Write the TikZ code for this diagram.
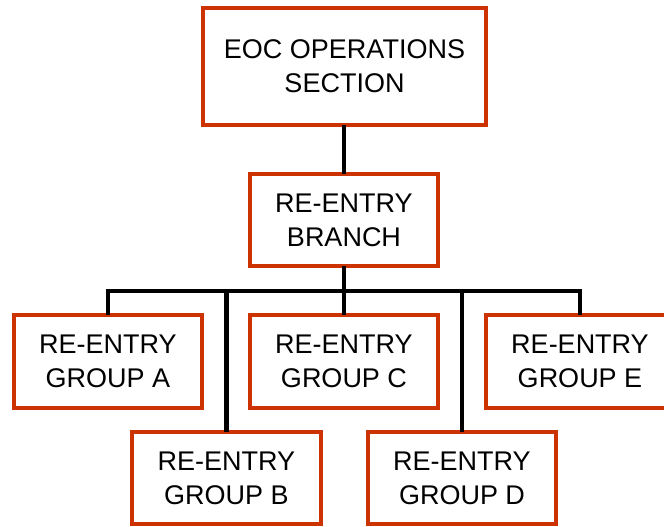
\documentclass[tikz,border=0pt]{standalone}
\usepackage{fontspec}
\setmainfont{Liberation Sans}
\definecolor{boxred}{HTML}{CC3300}
\begin{document}
\begin{tikzpicture}[x=1pt,y=-1pt,
  orgbox/.style={draw=boxred, line width=4pt, fill=white, rectangle, align=center,
    inner sep=0pt, outer sep=0pt, font=\fontsize{27}{34}\selectfont},
  link/.style={draw=black, line width=4.2pt}]
\useasboundingbox (0,0) rectangle (664,527);
\clip (0,0) rectangle (664,527);
\node[orgbox, minimum width=283pt, minimum height=117pt] (top) at (344.5,66.5) {EOC OPERATIONS\\SECTION};
\node[orgbox, minimum width=188pt, minimum height=92pt] (branch) at (344,220) {RE-ENTRY\\BRANCH};
\node[orgbox, minimum width=188pt, minimum height=93pt] (A) at (108,361.5) {RE-ENTRY\\GROUP A};
\node[orgbox, minimum width=188pt, minimum height=93pt] (C) at (344,361.5) {RE-ENTRY\\GROUP C};
\node[orgbox, minimum width=188pt, minimum height=93pt] (E) at (580,361.5) {RE-ENTRY\\GROUP E};
\node[orgbox, minimum width=189pt, minimum height=92pt] (B) at (226.5,478) {RE-ENTRY\\GROUP B};
\node[orgbox, minimum width=188pt, minimum height=92pt] (D) at (462,478) {RE-ENTRY\\GROUP D};
\coordinate (bus) at (344,291);
\draw[link] (branch.north) -- (branch.north |- top.south);
\draw[link] (branch.south) -- (C.north);
\draw[link] (A.north) |- (bus) -| (E.north);
\draw[link] (B.north) -- (B.north |- bus);
\draw[link] (D.north) -- (D.north |- bus);
\end{tikzpicture}
\end{document}
